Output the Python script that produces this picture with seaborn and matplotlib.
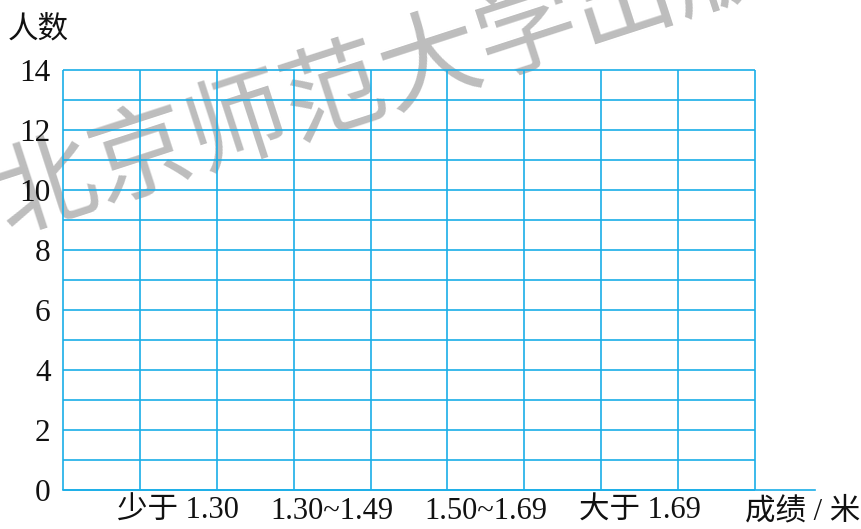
import matplotlib
matplotlib.use("Agg")
import matplotlib.pyplot as plt
import seaborn as sns

# blank frequency chart: groups of results, counts still to be filled in
groups = ["少于 1.30", "1.30~1.49", "1.50~1.69", "大于 1.69"]
counts = [0, 0, 0, 0]
y_ticks = [0, 2, 4, 6, 8, 10, 12, 14]
n_columns = 9
y_max = 14

grid_blue = "#1AAEE8"
ink = "#111111"

sns.set_theme(style="white")
plt.rcParams["font.family"] = ["Liberation Serif", "Noto Sans CJK SC"]

fig = plt.figure(figsize=(8.62, 5.29), dpi=100)
ax = fig.add_axes([0.0731, 0.0737, 0.8724, 0.794])
ax.patch.set_alpha(0)

# each group sits in every second column of the grid
positions = [2 * i + 1.5 for i in range(len(groups))]
sns.barplot(x=positions, y=counts, native_scale=True, width=0.5,
            color=grid_blue, ax=ax)

# the squared paper
ax.hlines(range(y_max + 1), 0, n_columns, color=grid_blue, lw=1.2,
          clip_on=False, zorder=1)
ax.vlines(range(n_columns + 1), 0, y_max, color=grid_blue, lw=1.2,
          clip_on=False, zorder=1)

ax.set_xlim(0, 9.78)
ax.set_ylim(0, y_max)
for side in ["left", "top", "right"]:
    ax.spines[side].set_visible(False)
ax.spines["bottom"].set_color(grid_blue)
ax.spines["bottom"].set_linewidth(1.2)

ax.set_yticks(y_ticks)
ax.set_yticklabels([str(t) for t in y_ticks], fontsize=22.5, color=ink)
ax.set_xticks(positions)
ax.set_xticklabels(groups, fontsize=22, color=ink)
ax.tick_params(axis="y", length=0, pad=9)
ax.tick_params(axis="x", length=0, pad=5)
ax.set_xlabel("")
ax.set_ylabel("")

fig.text(8 / 862, 1 - 30 / 529, "人数", fontsize=22, color=ink,
         ha="left", va="center")
fig.text(1 - 2 / 862, 1 - 512 / 529, "成绩 / 米", fontsize=22, color=ink,
         ha="right", va="center")

# publisher watermark behind the grid
fig.text(-0.003, 0.612, "北京师范大学出版社", rotation=18, rotation_mode="anchor",
         ha="left", va="center", fontsize=73, color="#BDBDBD",
         family="Noto Sans CJK SC", zorder=-1)

fig.savefig("out.png", dpi=100)
